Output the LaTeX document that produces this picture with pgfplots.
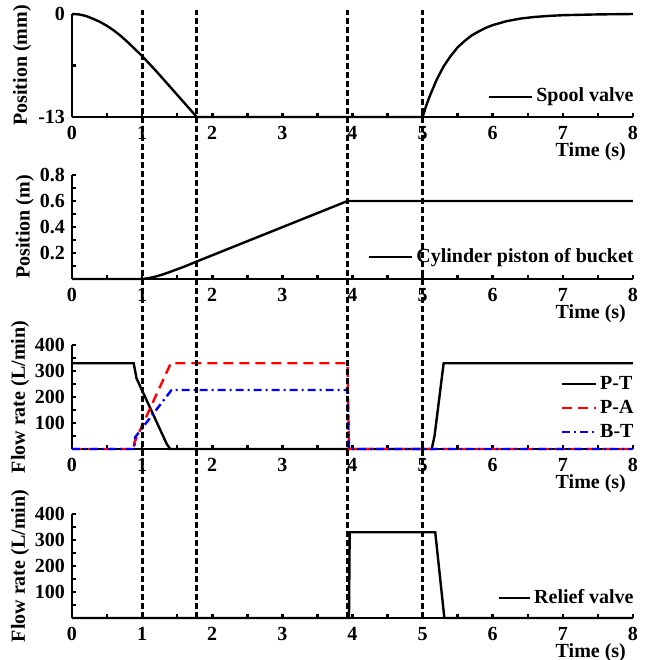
\documentclass[border=0pt]{standalone}
\usepackage{fontspec}
\setmainfont{Liberation Serif}
\usepackage{pgfplots}
\pgfplotsset{compat=1.18}

\newcommand{\ff}{\fontsize{10}{12}\selectfont\bfseries}

\pgfplotsset{
  panel/.style={
    at={(36pt,#1)}, anchor=south west,
    scale only axis, width=280.5pt, height=52pt,
    xmin=0, xmax=8, clip=false,
    axis x line=bottom, axis y line=left,
    axis line style={-, line width=1.3pt},
    xtick={0,...,8}, minor xtick={0.5,1.5,...,7.5},
    tick align=inside, major tick length=2.2pt, minor tick length=1.8pt,
    tick style={line width=1.3pt, black},
    ticklabel style={font=\ff},
    xticklabel style={yshift=-1.2pt},
    /pgf/number format/assume math mode=true,
    xlabel={Time (s)},
    every axis x label/.style={at={(axis description cs:1,0)}, anchor=north east, yshift=-9.5pt, font=\ff},
    every axis y label/.style={at={(axis description cs:-0.089,0.5)}, rotate=90, anchor=center, font=\ff},
    legend style={draw=none, fill=none, font=\ff, legend cell align=left, inner sep=0pt,
      nodes={inner sep=1.5pt, text height=7pt, text depth=2pt}},
  },
  limg/.style={legend image code/.code={\draw[##1] (0cm,0cm) -- (#1,0cm);}},
  curve/.style={black, line width=1.2pt},
}

\begin{document}
\begin{tikzpicture}
\path[use as bounding box] (0,0) rectangle (325.5pt,-330pt);

% spool valve
\begin{axis}[panel=-58.5pt, height=51.5pt, name=p1,
  ymin=-13, ymax=0, ytick={-13,0}, minor ytick={-6.5},
  ylabel={Position (mm)}, limg=0.75cm,
  legend style={at={(axis description cs:1,0.197)}, anchor=east, xshift=2pt}]
\addplot[curve] coordinates {(0,0) (0.1,-0.05) (0.2,-0.25) (0.3,-0.6) (0.4,-1.0) (0.5,-1.5)
  (0.6,-2.1) (0.7,-2.8) (0.8,-3.6) (0.9,-4.45) (1.0,-5.3) (1.1,-6.25) (1.2,-7.2) (1.3,-8.2)
  (1.4,-9.2) (1.5,-10.2) (1.6,-11.2) (1.7,-12.2) (1.78,-13) (5.0,-13) (5.05,-11.6) (5.1,-10.4)
  (5.2,-8.3) (5.3,-6.6) (5.4,-5.3) (5.5,-4.2) (5.6,-3.4) (5.7,-2.7) (5.8,-2.2) (5.9,-1.75)
  (6.0,-1.4) (6.2,-0.9) (6.4,-0.57) (6.6,-0.37) (6.8,-0.24) (7.0,-0.15) (7.5,-0.05) (8,0)};
\legend{Spool valve}
\end{axis}

% cylinder piston
\begin{axis}[panel=-139.5pt, name=p2,
  ymin=0, ymax=0.8, ytick={0.2,0.4,0.6,0.8}, minor ytick={0.1,0.3,0.5,0.7},
  ylabel={Position (m)}, every axis y label/.append style={at={(axis description cs:-0.084,0.5)}}, limg=0.75cm,
  legend style={at={(axis description cs:1,0.21)}, anchor=east, xshift=2pt}]
\addplot[curve] coordinates {(0,0) (1.0,0) (1.1,0.007) (1.2,0.02) (1.3,0.036) (1.4,0.055)
  (1.5,0.075) (1.6,0.095) (1.7,0.117) (1.78,0.135) (3.93,0.6) (8,0.6)};
\legend{Cylinder piston of bucket}
\end{axis}

% flow rates
\begin{axis}[panel=-224.5pt, name=p3,
  ymin=0, ymax=400, ytick={100,200,300,400}, minor ytick={50,150,250,350},
  ylabel={Flow rate (L/min)}, every axis y label/.append style={at={(axis description cs:-0.0927,0.5)}}, limg=0.6cm,
  legend style={at={(axis description cs:1,0.394)}, anchor=east, xshift=2pt}]
\addplot[curve] coordinates {(0,330) (0.88,330) (0.92,272) (1.35,20) (1.40,0) (5.13,0)
  (5.17,50) (5.30,330) (8,330)};
\addplot[red, line width=1.2pt, dash pattern=on 5pt off 3pt] coordinates {(0,0) (0.88,0)
  (0.89,25) (1.41,330) (3.93,330) (3.95,0) (8,0)};
\addplot[blue, line width=1.2pt, dash pattern=on 4pt off 2pt on 1pt off 2pt] coordinates {(0,0)
  (0.89,0) (0.90,45) (1.42,227) (3.93,227) (3.95,0) (8,0)};
\legend{P-T, P-A, B-T}
\end{axis}

% relief valve
\begin{axis}[panel=-309pt, name=p4,
  ymin=0, ymax=400, ytick={100,200,300,400}, minor ytick={50,150,250,350},
  ylabel={Flow rate (L/min)}, every axis y label/.append style={at={(axis description cs:-0.0927,0.5)}}, limg=0.55cm,
  legend style={at={(axis description cs:1,0.19)}, anchor=east, xshift=2pt}]
\addplot[curve] coordinates {(0,0) (3.95,0) (3.96,330) (5.18,330) (5.31,0) (8,0)};
\legend{Relief valve}
\coordinate (v1) at (axis cs:1.0,0);
\coordinate (v2) at (axis cs:1.78,0);
\coordinate (v3) at (axis cs:3.93,0);
\coordinate (v4) at (axis cs:5.0,0);
\end{axis}

\coordinate (ttop) at ([yshift=2pt]p1.north west);
\foreach \v in {v1,v2,v3,v4}
  \draw[black, line width=1.5pt, dash pattern=on 3pt off 1.5pt] (\v) -- (\v |- ttop);
\end{tikzpicture}
\end{document}
